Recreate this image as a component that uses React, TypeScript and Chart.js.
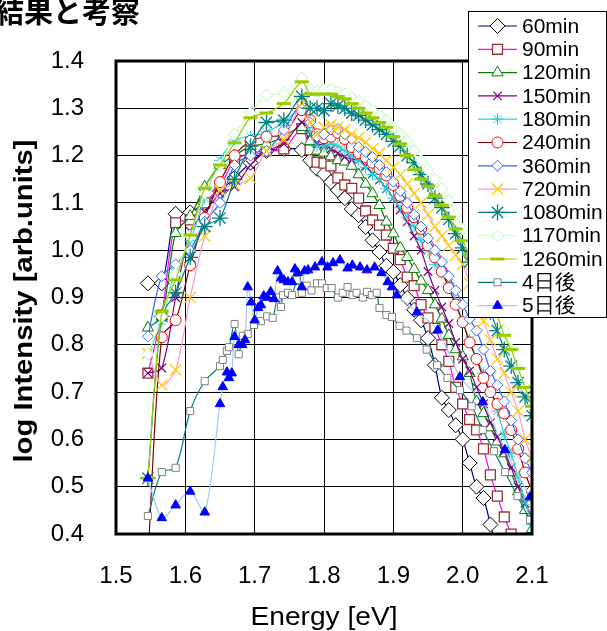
import React, { useEffect, useRef } from 'react';
import { Chart, registerables } from 'chart.js';

Chart.register(...registerables);

const pageTitle = '結果と考察';
const xTitle = 'Energy [eV]';
const yTitle = 'log Intensity [arb.units]';
const xTicks = [1.5, 2.1];
const yTicks = [0.4, 1.4];

const seriesNames = ['60min', '90min', '120min', '150min', '180min', '240min', '360min', '720min', '1080min', '1170min', '1260min', '4日後', '5日後'];

const energyMain = [1.546, 1.566, 1.586, 1.607, 1.628, 1.650, 1.671, 1.694, 1.717, 1.742, 1.768, 1.78, 1.79, 1.80, 1.81, 1.82, 1.83, 1.84, 1.85, 1.86, 1.87, 1.88, 1.89, 1.90, 1.91, 1.92, 1.93, 1.94, 1.95, 1.96, 1.97, 1.98, 1.99, 2.00, 2.01, 2.02, 2.03, 2.04, 2.05, 2.06, 2.07, 2.08, 2.09, 2.10];

const int60 = [0.93, 0.93, 1.077, 1.08, 1.10, 1.125, 1.153, 1.185, 1.21, 1.214, 1.212, 1.19, 1.172, 1.161, 1.144, 1.127, 1.110, 1.087, 1.074, 1.049, 1.021, 0.996, 0.967, 0.954, 0.926, 0.899, 0.874, 0.852, 0.814, 0.757, 0.688, 0.662, 0.63, 0.60, 0.55, 0.50, 0.476, 0.42, 0.36, null, null, null, null, null];
const int90 = [0.74, 0.863, 1.058, 1.064, 1.10, 1.135, 1.19, 1.205, 1.21, 1.214, 1.257, 1.212, 1.186, 1.184, 1.178, 1.153, 1.138, 1.131, 1.110, 1.083, 1.064, 1.053, 1.032, 1.004, 0.98, 0.943, 0.925, 0.885, 0.857, 0.835, 0.80, 0.765, 0.71, 0.675, 0.642, 0.62, 0.58, 0.525, 0.48, 0.436, 0.40, 0.36, null, null];
const int120 = [0.836, 0.86, 1.036, 1.072, 1.134, 1.18, 1.20, 1.22, 1.225, 1.24, 1.26, 1.23, 1.21, 1.206, 1.198, 1.19, 1.187, 1.178, 1.16, 1.14, 1.12, 1.095, 1.06, 1.035, 1.005, 0.985, 0.96, 0.935, 0.915, 0.885, 0.855, 0.82, 0.79, 0.775, 0.74, 0.68, 0.655, 0.625, 0.595, 0.57, 0.53, 0.49, 0.45, 0.41];
const int150 = [0.74, 0.751, 0.90, 1.04, 1.08, 1.12, 1.134, 1.18, 1.21, 1.225, 1.27, 1.245, 1.225, 1.222, 1.214, 1.205, 1.197, 1.192, 1.19, 1.178, 1.162, 1.148, 1.13, 1.11, 1.085, 1.06, 1.03, 1.0, 0.955, 0.915, 0.88, 0.845, 0.805, 0.77, 0.745, 0.71, 0.675, 0.635, 0.605, 0.575, 0.54, 0.50, 0.465, 0.43];
const int180 = [0.78, 0.85, 0.96, 1.02, 1.11, 1.19, 1.233, 1.24, 1.25, 1.27, 1.30, 1.25, 1.22, 1.22, 1.225, 1.22, 1.21, 1.20, 1.19, 1.175, 1.16, 1.15, 1.13, 1.11, 1.09, 1.07, 1.05, 1.02, 1.0, 0.97, 0.95, 0.93, 0.89, 0.85, 0.81, 0.77, 0.74, 0.70, 0.66, 0.61, 0.57, 0.52, 0.47, 0.42];
const int240 = [0.35, 0.816, 0.852, 0.968, 1.068, 1.144, 1.20, 1.231, 1.24, 1.245, 1.296, 1.275, 1.245, 1.237, 1.24, 1.248, 1.235, 1.218, 1.205, 1.197, 1.185, 1.172, 1.158, 1.138, 1.115, 1.09, 1.07, 1.045, 1.01, 0.985, 0.955, 0.92, 0.885, 0.848, 0.805, 0.77, 0.73, 0.70, 0.675, 0.655, 0.62, 0.58, 0.53, 0.49];
const int360 = [0.818, 0.945, 0.97, 1.0, 1.06, 1.10, 1.18, 1.20, 1.21, 1.254, 1.31, 1.27, 1.24, 1.245, 1.255, 1.256, 1.245, 1.235, 1.218, 1.208, 1.197, 1.18, 1.165, 1.145, 1.125, 1.1, 1.075, 1.05, 1.025, 1.0, 0.975, 0.945, 0.915, 0.885, 0.855, 0.83, 0.79, 0.745, 0.715, 0.68, 0.64, 0.60, 0.56, 0.53];
const int720 = [0.782, 0.715, 0.747, 0.90, 1.03, 1.127, 1.138, 1.152, 1.21, 1.235, 1.31, 1.27, 1.245, 1.26, 1.265, 1.26, 1.255, 1.245, 1.238, 1.228, 1.215, 1.205, 1.19, 1.175, 1.16, 1.14, 1.12, 1.10, 1.075, 1.05, 1.03, 1.01, 0.99, 0.97, 0.93, 0.89, 0.85, 0.81, 0.77, 0.74, 0.70, 0.66, 0.60, 0.56];
const int1080 = [0.518, 0.86, 0.91, 0.985, 1.05, 1.068, 1.15, 1.22, 1.27, 1.275, 1.325, 1.30, 1.30, 1.295, 1.31, 1.305, 1.30, 1.29, 1.285, 1.275, 1.265, 1.255, 1.245, 1.23, 1.22, 1.20, 1.185, 1.16, 1.14, 1.11, 1.09, 1.065, 1.035, 1.005, 0.975, 0.94, 0.905, 0.87, 0.83, 0.79, 0.755, 0.72, 0.69, 0.65];
const int1170 = [0.78, 0.86, 0.95, 1.03, 1.12, 1.18, 1.245, 1.29, 1.328, 1.332, 1.364, 1.34, 1.335, 1.34, 1.34, 1.335, 1.33, 1.322, 1.315, 1.305, 1.295, 1.285, 1.275, 1.26, 1.245, 1.23, 1.21, 1.19, 1.17, 1.15, 1.13, 1.105, 1.075, 1.045, 1.01, 0.975, 0.94, 0.905, 0.87, 0.83, 0.79, 0.75, 0.71, 0.67];
const int1260 = [0.518, 0.87, 0.937, 1.032, 1.131, 1.18, 1.227, 1.28, 1.29, 1.31, 1.356, 1.33, 1.33, 1.33, 1.33, 1.325, 1.32, 1.31, 1.30, 1.29, 1.28, 1.27, 1.26, 1.24, 1.225, 1.20, 1.17, 1.15, 1.135, 1.115, 1.095, 1.07, 1.045, 1.02, 0.99, 0.96, 0.93, 0.89, 0.86, 0.82, 0.79, 0.75, 0.71, 0.67];

const energyDay4 = [1.546, 1.566, 1.586, 1.607, 1.628, 1.650, 1.654, 1.660, 1.663, 1.671, 1.677, 1.683, 1.690, 1.699, 1.709, 1.718, 1.726, 1.733, 1.738, 1.741, 1.748, 1.754, 1.761, 1.768, 1.775, 1.782, 1.790, 1.797, 1.804, 1.811, 1.820, 1.827, 1.834, 1.841, 1.847, 1.856, 1.862, 1.869, 1.876, 1.880, 1.890, 1.898, 1.909, 1.919, 1.934, 1.948, 1.963, 1.978, 1.996, 2.013, 2.029, 2.045, 2.061, 2.079, 2.097];
const intDay4 = [0.438, 0.531, 0.54, 0.66, 0.723, 0.755, 0.768, 0.787, 0.795, 0.844, 0.78, 0.819, 0.823, 0.842, 0.85, 0.86, 0.857, 0.90, 0.88, 0.905, 0.91, 0.905, 0.937, 0.91, 0.925, 0.915, 0.93, 0.93, 0.92, 0.92, 0.90, 0.91, 0.922, 0.905, 0.91, 0.90, 0.912, 0.905, 0.91, 0.878, 0.863, 0.859, 0.84, 0.83, 0.814, 0.79, 0.757, 0.73, 0.704, 0.67, 0.62, 0.575, 0.531, 0.48, 0.43];

const energyDay5 = [1.546, 1.566, 1.586, 1.607, 1.628, 1.650, 1.654, 1.660, 1.663, 1.667, 1.671, 1.677, 1.682, 1.686, 1.690, 1.695, 1.700, 1.705, 1.709, 1.713, 1.718, 1.723, 1.728, 1.733, 1.738, 1.742, 1.748, 1.754, 1.758, 1.762, 1.768, 1.772, 1.777, 1.787, 1.797, 1.805, 1.813, 1.823, 1.834, 1.841, 1.852, 1.862, 1.873, 1.883, 1.892, 1.898, 1.905, 1.934, 1.964, 1.996, 2.029, 2.061, 2.097];
const intDay5 = [0.518, 0.434, 0.461, 0.49, 0.446, 0.675, 0.711, 0.742, 0.73, 0.74, 0.817, 0.80, 0.80, 0.81, 0.922, 0.89, 0.852, 0.878, 0.884, 0.903, 0.90, 0.912, 0.897, 0.956, 0.941, 0.937, 0.933, 0.933, 0.96, 0.952, 0.922, 0.956, 0.958, 0.964, 0.975, 0.964, 0.973, 0.979, 0.962, 0.968, 0.964, 0.958, 0.964, 0.952, 0.933, 0.922, 0.905, 0.869, 0.831, 0.732, 0.679, 0.578, 0.478];

const seriesX = [energyMain, energyMain, energyMain, energyMain, energyMain, energyMain, energyMain, energyMain, energyMain, energyMain, energyMain, energyDay4, energyDay5];
const seriesY = [int60, int90, int120, int150, int180, int240, int360, int720, int1080, int1170, int1260, intDay4, intDay5];

type Sty = { line: string; border: string; fill: string; shape: string; r: number; bw: number };
const styles: Sty[] = [
  { line: '#000080', border: '#000000', fill: '#FFFFFF', shape: 'rectRot', r: 7.5, bw: 1 },
  { line: '#FF00FF', border: '#993333', fill: '#FFFFFF', shape: 'rect', r: 7, bw: 1.3 },
  { line: '#008000', border: '#008000', fill: '#FFFFFF', shape: 'triangle', r: 6.5, bw: 1 },
  { line: '#800080', border: '#800080', fill: '#800080', shape: 'crossRot', r: 6, bw: 1.2 },
  { line: '#33CCCC', border: '#33CCCC', fill: '#33CCCC', shape: 'star', r: 6, bw: 1 },
  { line: '#800000', border: '#FF0000', fill: '#FFFFFF', shape: 'circle', r: 5.5, bw: 1 },
  { line: '#3366FF', border: '#3366FF', fill: '#FFFFFF', shape: 'rectRot', r: 5.5, bw: 1 },
  { line: '#FF99CC', border: '#FFCC00', fill: '#FFCC00', shape: 'crossRot', r: 8, bw: 1.3 },
  { line: '#008080', border: '#008080', fill: '#008080', shape: 'star', r: 8, bw: 1.3 },
  { line: '#CCFFCC', border: '#B8F5B8', fill: '#FFFFFF', shape: 'rectRot', r: 6, bw: 1 },
  { line: '#99CC00', border: '#99CC00', fill: '#99CC00', shape: 'line', r: 7, bw: 3 },
  { line: '#008080', border: '#808080', fill: '#FFFFFF', shape: 'rect', r: 5, bw: 1 },
  { line: '#99CCFF', border: '#0000FF', fill: '#0000FF', shape: 'triangle', r: 5.5, bw: 1 },
];

function drawMarker(ctx: CanvasRenderingContext2D, s: Sty, x: number, y: number) {
  const r = s.r;
  ctx.save();
  ctx.lineWidth = s.bw;
  ctx.strokeStyle = s.border;
  ctx.fillStyle = s.fill;
  ctx.beginPath();
  if (s.shape === 'rectRot') {
    ctx.moveTo(x, y - r); ctx.lineTo(x + r, y); ctx.lineTo(x, y + r); ctx.lineTo(x - r, y); ctx.closePath();
    ctx.fill(); ctx.stroke();
  } else if (s.shape === 'rect') {
    const h = r * Math.SQRT1_2;
    ctx.rect(x - h, y - h, 2 * h, 2 * h); ctx.fill(); ctx.stroke();
  } else if (s.shape === 'triangle') {
    ctx.moveTo(x, y - r);
    ctx.lineTo(x + Math.sin((2 * Math.PI) / 3) * r, y - Math.cos((2 * Math.PI) / 3) * r);
    ctx.lineTo(x + Math.sin((4 * Math.PI) / 3) * r, y - Math.cos((4 * Math.PI) / 3) * r);
    ctx.closePath(); ctx.fill(); ctx.stroke();
  } else if (s.shape === 'circle') {
    ctx.arc(x, y, r, 0, Math.PI * 2); ctx.fill(); ctx.stroke();
  } else if (s.shape === 'crossRot' || s.shape === 'star') {
    const d = r * Math.SQRT1_2;
    ctx.moveTo(x - d, y - d); ctx.lineTo(x + d, y + d);
    ctx.moveTo(x - d, y + d); ctx.lineTo(x + d, y - d);
    if (s.shape === 'star') {
      ctx.moveTo(x, y - r); ctx.lineTo(x, y + r);
      ctx.moveTo(x - r, y); ctx.lineTo(x + r, y);
    }
    ctx.stroke();
  } else if (s.shape === 'line') {
    ctx.moveTo(x - r, y); ctx.lineTo(x + r, y); ctx.stroke();
  }
  ctx.restore();
}

function scaledText(ctx: CanvasRenderingContext2D, text: string, font: string, x: number, y: number, target: number, angle: number) {
  ctx.save();
  ctx.font = font;
  const w = ctx.measureText(text).width;
  ctx.translate(x, y);
  ctx.rotate(angle);
  ctx.scale(target / w, 1);
  ctx.textAlign = 'center';
  ctx.textBaseline = 'alphabetic';
  ctx.fillStyle = '#000';
  ctx.fillText(text, 0, 0);
  ctx.restore();
}

const overlayPlugin = {
  id: 'overlay',
  afterDraw(chart: any) {
    const ctx: CanvasRenderingContext2D = chart.ctx;
    const a = chart.chartArea;
    ctx.save();
    ctx.strokeStyle = '#000';
    ctx.lineWidth = 3;
    ctx.strokeRect(a.left, a.top, a.right - a.left, a.bottom - a.top);

    ctx.fillStyle = '#000';
    ctx.font = 'bold 29px "Noto Sans CJK JP"';
    ctx.textAlign = 'left';
    ctx.textBaseline = 'alphabetic';
    ctx.fillText(pageTitle, -5, 23);

    scaledText(ctx, xTitle, '25px "Liberation Sans"', (a.left + a.right) / 2, 625, 147, 0);
    scaledText(ctx, yTitle, 'bold 26px "Liberation Sans"', 32, 301, 323, -Math.PI / 2);

    // legend
    const lx = 468, ly = 11, lw = 139, lh = 307;
    ctx.fillStyle = '#FFFFFF';
    ctx.fillRect(lx, ly, lw, lh);
    ctx.strokeStyle = '#000';
    ctx.lineWidth = 1;
    ctx.strokeRect(lx + 0.5, ly + 0.5, lw - 1, lh - 1);
    ctx.font = '21px "Liberation Sans"';
    ctx.textBaseline = 'middle';
    ctx.textAlign = 'left';
    for (let i = 0; i < seriesNames.length; i++) {
      const y = 26 + i * 23.3;
      const s = styles[i];
      ctx.strokeStyle = s.line;
      ctx.lineWidth = 1.2;
      ctx.beginPath();
      ctx.moveTo(478, y);
      ctx.lineTo(517, y);
      ctx.stroke();
      drawMarker(ctx, s, 497.5, y);
      ctx.fillStyle = '#000';
      ctx.fillText(seriesNames[i], 522, y + 1);
    }
    ctx.restore();
  },
};

export default function App() {
  const ref = useRef<HTMLCanvasElement>(null);
  useEffect(() => {
    if (!ref.current) return;
    const n = seriesNames.length;
    const datasets = seriesNames.map((name, i) => {
      const s = styles[i];
      const xs = seriesX[i];
      const ys = seriesY[i];
      return {
        label: name,
        data: xs.map((x, j) => ({ x, y: ys[j] })),
        borderColor: s.line,
        backgroundColor: s.fill,
        borderWidth: 1.2,
        pointStyle: s.shape,
        pointRadius: s.r,
        pointBorderColor: s.border,
        pointBackgroundColor: s.fill,
        pointBorderWidth: s.bw,
        tension: 0.3,
        spanGaps: false,
        fill: false,
        order: n - i,
      };
    });
    const chart = new Chart(ref.current, {
      type: 'line',
      data: { datasets } as any,
      options: {
        animation: false,
        responsive: false,
        devicePixelRatio: 1,
        layout: { padding: { left: 0, top: 61, right: 75, bottom: 0 } },
        plugins: { legend: { display: false }, tooltip: { enabled: false }, title: { display: false } },
        scales: {
          x: {
            type: 'linear',
            min: xTicks[0],
            max: xTicks[1],
            ticks: {
              stepSize: 0.1,
              padding: 28,
              color: '#000',
              font: { family: '"Liberation Sans", Arial', size: 24 },
              callback: (v: any) => Number(v).toFixed(1),
            },
            grid: { color: '#000', lineWidth: 1, drawTicks: false },
            border: { display: false },
            afterFit: (sc: any) => { sc.height = 97; },
          },
          y: {
            type: 'linear',
            min: yTicks[0],
            max: yTicks[1],
            ticks: {
              stepSize: 0.1,
              padding: 32,
              color: '#000',
              font: { family: '"Liberation Sans", Arial', size: 24 },
              callback: (v: any) => Number(v).toFixed(1),
            },
            grid: { color: '#000', lineWidth: 1, drawTicks: false },
            border: { display: false },
            afterFit: (sc: any) => { sc.width = 116; },
          },
        },
      } as any,
      plugins: [overlayPlugin],
    });
    return () => chart.destroy();
  }, []);
  return (
    <div style={{ position: 'absolute', left: 0, top: 0, width: 607, height: 631, background: '#fff' }}>
      <canvas ref={ref} width={607} height={631} style={{ width: 607, height: 631, display: 'block' }} />
    </div>
  );
}
